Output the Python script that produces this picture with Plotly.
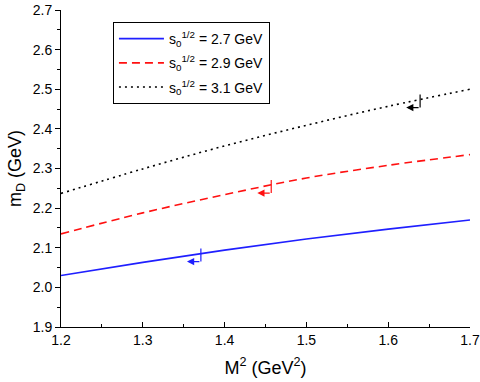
import plotly.graph_objects as go

# Data
M2 = [1.2, 1.3, 1.4, 1.5, 1.6, 1.7]
m_27 = [2.030, 2.063, 2.094, 2.122, 2.147, 2.170]
m_29 = [2.135, 2.188, 2.234, 2.276, 2.308, 2.335]
m_31 = [2.237, 2.299, 2.357, 2.409, 2.457, 2.500]
labels = ["s<sub>0</sub><sup>1/2</sup> = 2.7 GeV",
          "s<sub>0</sub><sup>1/2</sup> = 2.9 GeV",
          "s<sub>0</sub><sup>1/2</sup> = 3.1 GeV"]
# Borel window markers (x position on each curve)
mark_x = [1.371, 1.457, 1.639]

colors = ["#1f1fff", "#ff1010", "#000000"]
dashes = ["solid", "8px,5px", "2px,4px"]
series = [m_27, m_29, m_31]

fig = go.Figure()
for i, (ys, lab) in enumerate(zip(series, labels)):
    fig.add_trace(go.Scatter(x=M2, y=ys, mode="lines", name=lab,
                             line=dict(color=colors[i], width=1.6, dash=dashes[i], shape="spline"),
                             legendgroup=f"g{i}"))


def interp(x, xs, ys):
    for j in range(len(xs) - 1):
        if xs[j] <= x <= xs[j + 1]:
            t = (x - xs[j]) / (xs[j + 1] - xs[j])
            return ys[j] + t * (ys[j + 1] - ys[j])
    return ys[-1]


for i, xm in enumerate(mark_x):
    yc = interp(xm, M2, series[i])
    top, bot = yc + 0.013, yc - 0.02
    fig.add_shape(type="line", x0=xm, x1=xm, y0=top, y1=bot, xref="x", yref="y",
                  line=dict(color=colors[i], width=1.2))
    fig.add_annotation(x=xm - 0.017, y=bot, ax=xm, ay=bot, axref="x", ayref="y",
                       xref="x", yref="y", text="", showarrow=True,
                       arrowhead=2, arrowsize=1.2, arrowwidth=1.2, arrowcolor=colors[i])

font = "Liberation Sans, Arial, sans-serif"
fig.update_layout(
    width=480, height=382,
    margin=dict(l=61, r=10, t=10, b=55, autoexpand=False),
    paper_bgcolor="white", plot_bgcolor="white",
    font=dict(family=font, size=14, color="black"),
    showlegend=True,
    legend=dict(x=0.127, y=0.962, xanchor="left", yanchor="top",
                bgcolor="white", bordercolor="black", borderwidth=1,
                font=dict(size=14), tracegroupgap=3, itemwidth=45),
    xaxis=dict(range=[1.2, 1.7], tickvals=[1.2, 1.3, 1.4, 1.5, 1.6, 1.7],
               tickformat=".1f", ticks="inside", ticklen=5, tickwidth=1,
               tickcolor="black", showline=True, linecolor="black", linewidth=1,
               showgrid=False, zeroline=False, mirror=False, automargin=False,
               minor=dict(ticks="inside", dtick=0.05, ticklen=3, tickcolor="black", showgrid=False),
               title=dict(text="M<sup>2</sup> (GeV<sup>2</sup>)", font=dict(size=18), standoff=14),
               tickfont=dict(size=14)),
    yaxis=dict(range=[1.9, 2.7], dtick=0.1, tick0=1.9, tickformat=".1f",
               ticks="outside", ticklen=5, tickwidth=1, tickcolor="black",
               showline=True, linecolor="black", linewidth=1,
               showgrid=False, zeroline=False, mirror=False, automargin=False,
               minor=dict(ticks="outside", dtick=0.05, ticklen=3, tickcolor="black", showgrid=False),
               title=dict(text="m<sub>D</sub> (GeV)", font=dict(size=18), standoff=6),
               tickfont=dict(size=14)),
)

fig.write_html("out.html", config={"displayModeBar": False},
               post_script="document.body.style.margin='0';")
